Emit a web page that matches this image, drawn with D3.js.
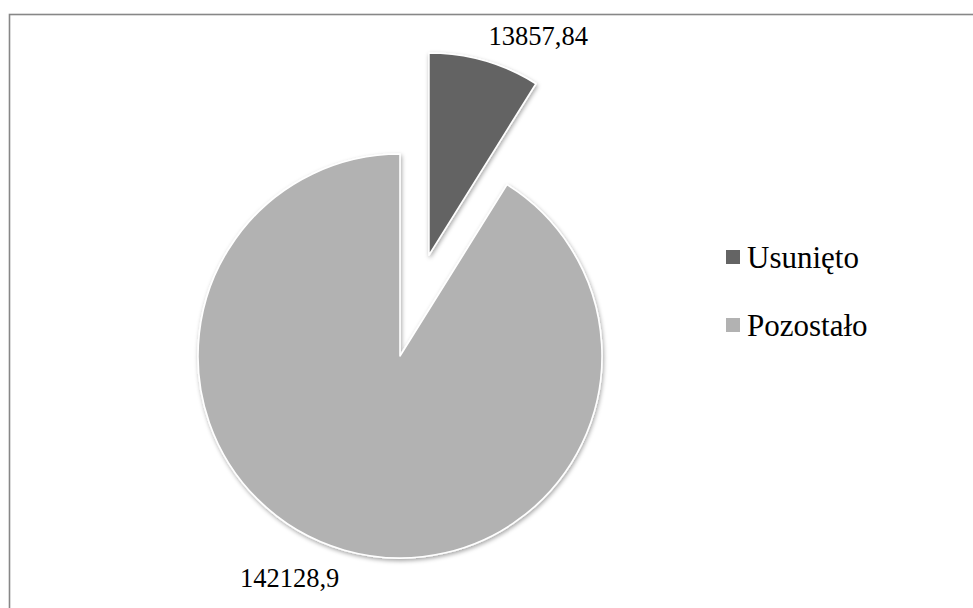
<!DOCTYPE html>
<html>
<head>
<meta charset="utf-8">
<script src="https://cdn.jsdelivr.net/npm/d3@7/dist/d3.min.js"></script>
<style>
  html, body { margin: 0; padding: 0; background: #fff; }
  svg { display: block; }
</style>
</head>
<body>
<svg id="chart" width="973" height="608"></svg>
<script>
const categories = ["Usunięto", "Pozostało"];
const values = [13857.84, 142128.9];
const valueLabels = ["13857,84", "142128,9"];
const colors = ["#646464", "#b2b2b2"];
const exploded = [true, false];

const FONT = '"Liberation Serif"';
const svg = d3.select("#chart");

// drop shadow
const defs = svg.append("defs");
const f = defs.append("filter").attr("id", "shadow")
  .attr("x", "-20%").attr("y", "-20%").attr("width", "140%").attr("height", "140%");
f.append("feDropShadow").attr("dx", 1).attr("dy", 2).attr("stdDeviation", 2.2)
  .attr("flood-color", "#000").attr("flood-opacity", 0.35);

// chart frame
svg.append("rect")
  .attr("x", 9.5).attr("y", 14.5)
  .attr("width", 980).attr("height", 620)
  .attr("fill", "#fff")
  .attr("stroke", "#878787").attr("stroke-width", 1.6);

const cx = 400, cy = 356, r = 202, explodeDist = 105;

const data = categories.map((c, i) => ({ name: c, value: values[i], label: valueLabels[i], color: colors[i], exploded: exploded[i] }));
const pie = d3.pie().value(d => d.value).sort(null).startAngle(0).endAngle(2 * Math.PI);
const arcs = pie(data);
const arc = d3.arc().innerRadius(0).outerRadius(r);

const g = svg.append("g").attr("transform", `translate(${cx},${cy})`);

arcs.forEach(a => {
  const mid = (a.startAngle + a.endAngle) / 2;
  const off = a.data.exploded ? explodeDist : 0;
  a.ox = Math.sin(mid) * off; a.oy = -Math.cos(mid) * off; a.mid = mid;
});

g.selectAll("path.slice")
  .data(arcs)
  .join("path")
  .attr("class", "slice")
  .attr("transform", d => `translate(${d.ox},${d.oy})`)
  .attr("d", arc)
  .attr("fill", d => d.data.color)
  .attr("stroke", "#fff")
  .attr("stroke-width", 1.6)
  .attr("stroke-linejoin", "round")
  .attr("filter", "url(#shadow)");

// data labels (outside end)
g.selectAll("text.lbl")
  .data(arcs)
  .join("text")
  .attr("class", "lbl")
  .each(function(d) {
    const px = d.ox + Math.sin(d.mid) * r;
    const py = d.oy - Math.cos(d.mid) * r;
    const right = Math.sin(d.mid) >= 0;
    const top = Math.cos(d.mid) >= 0;
    d3.select(this)
      .attr("x", right ? px + 4 : px - 5)
      .attr("y", top ? py - 16 : py + 37)
      .attr("text-anchor", right ? "start" : "end");
  })
  .style("font-family", FONT)
  .style("font-size", "26.5px")
  .attr("fill", "#000")
  .text(d => d.data.label);

// legend
const legend = svg.append("g").attr("transform", "translate(726,250)");
const rows = legend.selectAll("g.row")
  .data(data)
  .join("g")
  .attr("class", "row")
  .attr("transform", (d, i) => `translate(0,${i * 68})`);
rows.append("rect")
  .attr("x", 0).attr("y", 0).attr("width", 14).attr("height", 14)
  .attr("fill", d => d.color);
rows.append("text")
  .attr("x", 21).attr("y", 18)
  .style("font-family", FONT)
  .style("font-size", "31px")
  .attr("fill", "#000")
  .text(d => d.name);
</script>
</body>
</html>
